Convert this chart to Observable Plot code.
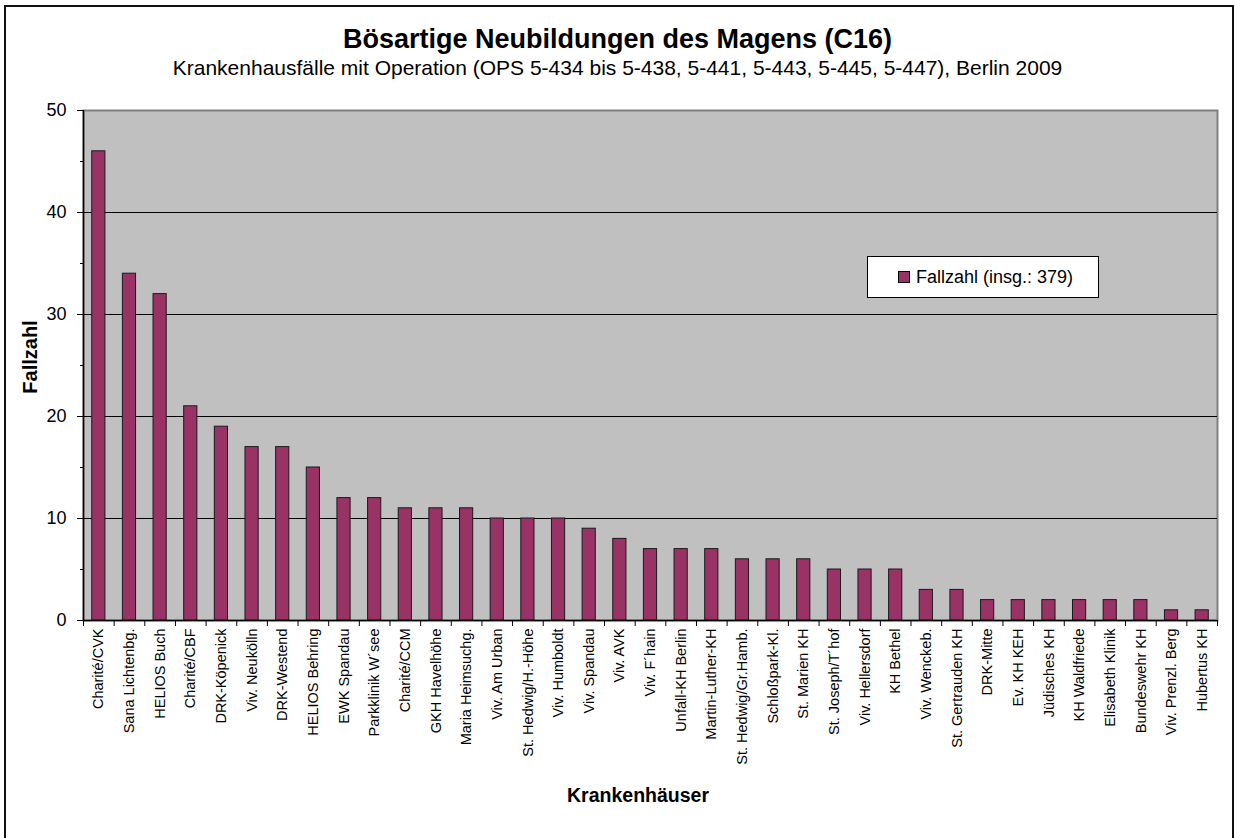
<!DOCTYPE html>
<html><head><meta charset="utf-8">
<script src="https://cdn.jsdelivr.net/npm/d3@7"></script>
<script src="https://cdn.jsdelivr.net/npm/@observablehq/plot@0.6"></script>
<style>
body{margin:0;background:#fff;font-family:"Liberation Sans",Arial,sans-serif;color:#000}
#wrap{position:relative;width:1235px;height:838px;overflow:hidden;background:#fff}
#chart{position:absolute;left:0;top:0}
#border{position:absolute;left:4px;top:5px;width:1230px;height:845px;border:2px solid #111;box-sizing:border-box;pointer-events:none}
.t{position:absolute;white-space:nowrap}
#title{left:0;width:1235px;top:24px;text-align:center;font-weight:bold;font-size:27px;line-height:30px}
#subtitle{left:0;width:1235px;top:56px;text-align:center;font-size:21px;line-height:24px}
#ylab{left:30px;top:357px;font-weight:bold;font-size:20px;transform:translate(-50%,-50%) rotate(-90deg)}
#xlab{left:638px;top:795px;font-weight:bold;font-size:19.5px;transform:translate(-50%,-50%)}
#legend{position:absolute;left:867px;top:256px;width:232px;height:42px;background:#fff;border:1px solid #000;box-sizing:border-box;display:flex;align-items:center;font-size:18px}
#legend .sw{width:10px;height:10px;background:#993366;border:1px solid #000;margin-left:30px;margin-right:6px}
</style></head>
<body><div id="wrap">
<div id="chart"></div>
<div class="t" id="title">Bösartige Neubildungen des Magens (C16)</div>
<div class="t" id="subtitle">Krankenhausfälle mit Operation (OPS 5-434 bis 5-438, 5-441, 5-443, 5-445, 5-447), Berlin 2009</div>
<div class="t" id="ylab">Fallzahl</div>
<div class="t" id="xlab">Krankenhäuser</div>
<div id="legend"><span class="sw"></span><span>Fallzahl (insg.: 379)</span></div>
<div id="border"></div>
</div>
<script>
const hospitals = ["Charité/CVK","Sana Lichtenbg.","HELIOS Buch","Charité/CBF","DRK-Köpenick","Viv. Neukölln","DRK-Westend","HELIOS Behring","EWK Spandau","Parkklinik W´see","Charité/CCM","GKH Havelhöhe","Maria Heimsuchg.","Viv. Am Urban","St. Hedwig/H.-Höhe","Viv. Humboldt","Viv. Spandau","Viv. AVK","Viv. F´hain","Unfall-KH Berlin","Martin-Luther-KH","St. Hedwig/Gr.Hamb.","Schloßpark-Kl.","St. Marien KH","St. Joseph/T´hof","Viv. Hellersdorf","KH Bethel","Viv. Wenckeb.","St. Gertrauden KH","DRK-Mitte","Ev. KH KEH","Jüdisches KH","KH Waldfriede","Elisabeth Klinik","Bundeswehr KH","Viv. Prenzl. Berg","Hubertus KH"];
const fallzahl = [46,34,32,21,19,17,17,15,12,12,11,11,11,10,10,10,9,8,7,7,7,6,6,6,5,5,5,3,3,2,2,2,2,2,2,1,1];
const yMajor = [0,10,20,30,40,50];
const yMinor = [5,15,25,35,45];
const yGrid = [10,20,30,40];

const data = hospitals.map((h,i)=>({name:h, value:fallzahl[i]}));
const W = 1235, H = 838, mL = 83, mR = 18, mT = 110, mB = 218;
const step = (W - mL - mR) / hospitals.length;

const chart = Plot.plot({
  width: W, height: H,
  marginLeft: mL, marginRight: mR, marginTop: mT, marginBottom: mB,
  style: {fontFamily: "'Liberation Sans', Arial, sans-serif", fontSize: "14px", color: "#000", background: "transparent", overflow: "visible"},
  x: {domain: hospitals, paddingInner: 0.57, paddingOuter: 0.285, round: false},
  y: {domain: [0, 50]},
  marks: [
    Plot.frame({fill: "#c0c0c0", stroke: "#808080", strokeWidth: 2}),
    Plot.gridY({ticks: yGrid, stroke: "#000", strokeOpacity: 1, strokeWidth: 1}),
    Plot.barY(data, {x: "name", y: "value", fill: "#993366", stroke: "#1a1a1a", strokeWidth: 1}),
    Plot.ruleY([0], {stroke: "#000", strokeWidth: 1.5}),
    Plot.ruleX([hospitals[0]], {y1: 0, y2: 50, dx: -step/2, stroke: "#000", strokeWidth: 1.5}),
    Plot.axisY({ticks: yMajor, tickSize: 6, tickPadding: 11, fontSize: 18, label: null, stroke: "#000"}),
    Plot.axisY({ticks: yMinor, tickSize: 3, tickFormat: () => "", label: null, stroke: "#000"}),
    Plot.axisX({tickSize: 0, tickRotate: -90, tickPadding: 8, fontSize: 14.5, label: null}),
    Plot.axisX({tickSize: 6, tickFormat: () => "", dx: step/2, label: null, stroke: "#000"}),
    Plot.axisX({ticks: [hospitals[0]], tickSize: 6, tickFormat: () => "", dx: -step/2, label: null, stroke: "#000"})
  ]
});
document.getElementById("chart").appendChild(chart);
</script>
</body></html>
